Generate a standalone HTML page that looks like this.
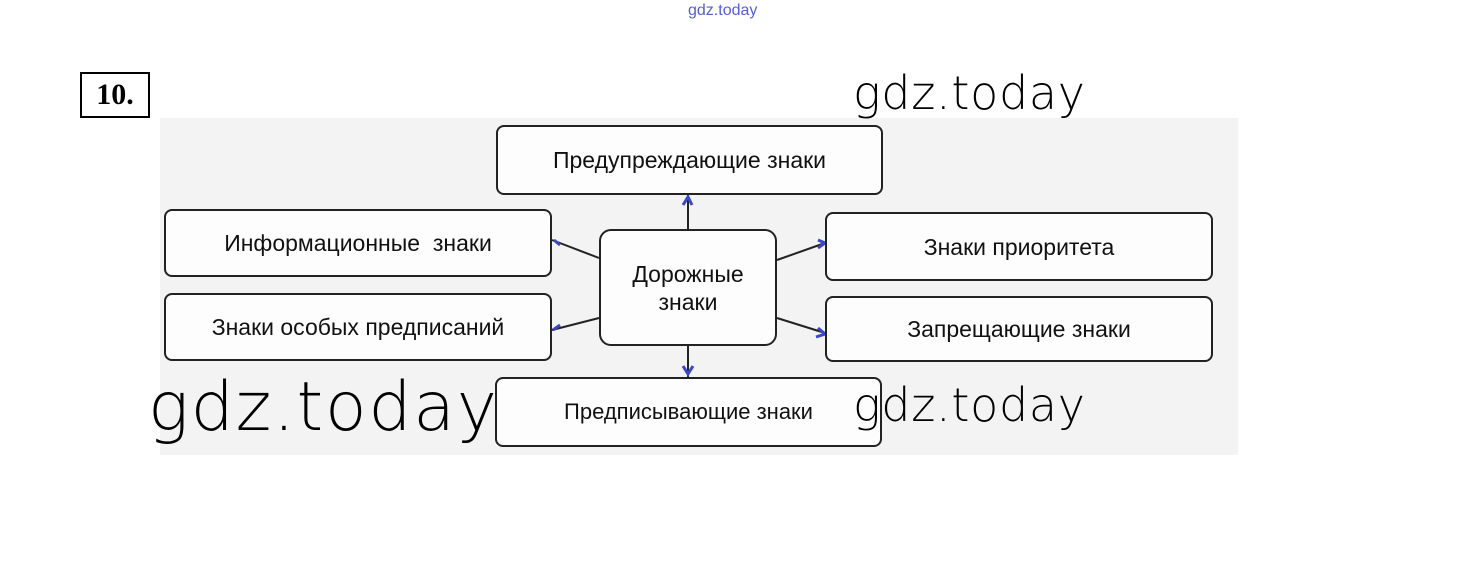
<!DOCTYPE html>
<html><head><meta charset="utf-8"><style>
body{margin:0;width:1460px;height:564px;background:#fff;position:relative;overflow:hidden;font-family:"Liberation Sans","DejaVu Sans",sans-serif}
.a{position:absolute}
.b{position:absolute;border:2px solid #222;border-radius:8px;background:#fdfdfd;display:flex;align-items:center;justify-content:center;font-size:23px;color:#111;box-sizing:border-box;text-align:center;line-height:28px}
.w{position:absolute;font-family:"DejaVu Sans","Liberation Sans",sans-serif;font-weight:200;color:#000}
</style></head><body>
<div class="a" style="left:688px;top:2px;font-size:16px;color:#5560d0">gdz.today</div>
<div class="a" style="left:80px;top:72px;width:66px;height:42px;border:2px solid #000;font:bold 30px 'Liberation Serif',serif;line-height:42px;text-align:center">10.</div>
<div class="a" style="left:160px;top:118px;width:1078px;height:337px;background:#f3f3f3"></div>
<svg class="a" style="left:0;top:0" width="1460" height="564">
<g stroke="#222" stroke-width="2" fill="none">
<line x1="688" y1="195" x2="688" y2="229"/>
<line x1="688" y1="346" x2="688" y2="377"/>
<line x1="599" y1="258" x2="552" y2="240"/>
<line x1="599" y1="318" x2="552" y2="330"/>
<line x1="777" y1="260" x2="825" y2="243"/>
<line x1="777" y1="318" x2="825" y2="333"/>
</g>
<g stroke="#3a48c8" stroke-width="3" fill="none">
<path d="M683 205 L688 197 L692 205"/>
<path d="M683 366 L688 374 L693 366"/>
<path d="M818 240 L825 243 L818 248"/>
<path d="M818 328 L825 334 L816 337"/>
<path d="M560 245 L554 240"/>
<path d="M560 325 L553 330"/>
</g>
</svg>
<div class="b" style="left:496px;top:125px;width:387px;height:70px">Предупреждающие знаки</div>
<div class="b" style="left:164px;top:209px;width:388px;height:68px">Информационные&nbsp; знаки</div>
<div class="b" style="left:164px;top:293px;width:388px;height:68px">Знаки особых предписаний</div>
<div class="b" style="left:599px;top:229px;width:178px;height:117px;border-radius:12px">Дорожные<br>знаки</div>
<div class="b" style="left:825px;top:212px;width:388px;height:69px">Знаки приоритета</div>
<div class="b" style="left:825px;top:296px;width:388px;height:66px">Запрещающие знаки</div>
<div class="b" style="left:495px;top:377px;width:387px;height:70px;font-size:22px">Предписывающие знаки</div>
<div class="w" style="left:853px;top:66px;font-size:46px;letter-spacing:0.7px">gdz.today</div>
<div class="w" style="left:853px;top:378px;font-size:46px;letter-spacing:0.7px">gdz.today</div>
<div class="w" style="left:148px;top:368px;font-size:68px;letter-spacing:1.8px">gdz.today</div>
</body></html>
